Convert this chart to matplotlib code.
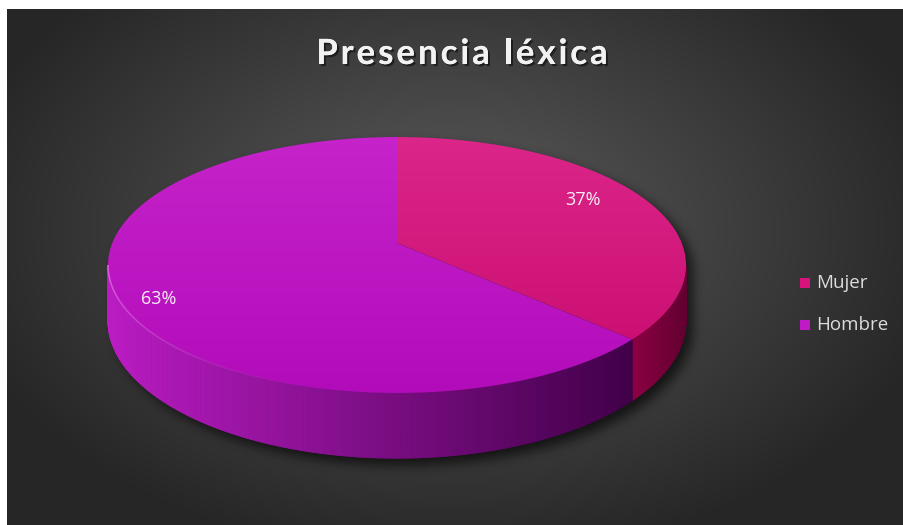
import numpy as np
import matplotlib
matplotlib.use('Agg')
import matplotlib.pyplot as plt
from matplotlib.path import Path
from matplotlib.patches import Polygon, Rectangle
from matplotlib.collections import PolyCollection, LineCollection
from matplotlib.colors import to_rgb
import matplotlib.patheffects as pe

# chart data
labels = ['Mujer', 'Hombre']
shares = [37, 63]
title = 'Presencia léxica'

# face colours (light, dark) per slice
top_colors = [('#dc268a', '#c80a6d'), ('#c623ca', '#b20cba')]
side_colors = [('#8e0044', '#620030'), ('#bb1cc4', '#42004a')]
legend_colors = ['#d8147c', '#c01ac6']
label_r = [0.70, 0.90]

W, H = 904, 525
fig = plt.figure(figsize=(W / 100, H / 100), dpi=100, facecolor='white')
ax = fig.add_axes([0, 0, 1, 1])

# dark radial background, white margin on the left and top
x0, y0 = 7, 9
yy, xx = np.mgrid[y0:H, x0:W] + 0.5
rr = np.sqrt(((xx - 450) / 520) ** 2 + ((yy - 230) / 340) ** 2)
g = np.clip(92 - 55 * rr, 38, 255) / 255
ax.imshow(np.dstack([g, g, g]), extent=(x0, W, H, y0), zorder=0,
          interpolation='bilinear')

# perspective projection of the pie disc
cx, cy = 397, 243
A, B, k = 284.7, 124.2, 0.172
D = 54


def project(alpha, r=1.0, drop=0.0):
    u = r * np.sin(alpha)
    v = -r * np.cos(alpha)
    w = 1 - k * v
    return cx + A * u / w, cy + B * v / w + drop / w


edges = 2 * np.pi * np.r_[0, np.cumsum(shares)] / np.sum(shares)
a_right = np.arccos(-k)
a_left = 2 * np.pi - a_right


def box_blur(a, r):
    for axis in (0, 1):
        pad = [(0, 0), (0, 0)]
        pad[axis] = (r + 1, r)
        c = np.cumsum(np.pad(a, pad, mode='edge'), axis=axis)
        if axis == 0:
            a = (c[2 * r + 1:] - c[:-2 * r - 1]) / (2 * r + 1)
        else:
            a = (c[:, 2 * r + 1:] - c[:, :-2 * r - 1]) / (2 * r + 1)
    return a


# soft drop shadow under the cylinder
back = np.linspace(a_left - 2 * np.pi, a_right, 300)
front = np.linspace(a_right, a_left, 300)
tx, ty = project(back)
bx, by = project(front, drop=D)
outline = np.column_stack([np.r_[tx, bx] + 7, np.r_[ty, by] + 7])
gy, gx = np.mgrid[0:H, 0:W] + 0.5
mask = Path(outline).contains_points(np.column_stack([gx.ravel(), gy.ravel()]))
mask = mask.reshape(H, W).astype(float)
for _ in range(3):
    mask = box_blur(mask, 5)
shadow = np.zeros((H, W, 4))
shadow[..., 3] = mask * 0.65
ax.imshow(shadow, extent=(0, W, H, 0), zorder=1)

# side wall, drawn as thin strips shaded left to right
for i in range(len(shares)):
    a0 = max(edges[i], a_right)
    a1 = min(edges[i + 1], a_left)
    if a1 <= a0:
        continue
    t = np.linspace(a0, a1, int((a1 - a0) / np.radians(0.4)) + 2)
    px, py = project(t)
    qx, qy = project(t, drop=D)
    c_lo, c_hi = np.array(to_rgb(side_colors[i][0])), np.array(to_rgb(side_colors[i][1]))
    xs_min, xs_max = px.min(), px.max()
    polys, cols = [], []
    for j in range(len(t) - 1):
        polys.append([(px[j], py[j]), (px[j + 1], py[j + 1]),
                      (qx[j + 1], qy[j + 1]), (qx[j], qy[j])])
        f = ((px[j] + px[j + 1]) / 2 - xs_min) / (xs_max - xs_min)
        cols.append(c_lo * (1 - f) + c_hi * f)
    ax.add_collection(PolyCollection(polys, facecolors=cols, edgecolors=cols,
                                     linewidths=0.6, zorder=2))

# top faces with a gentle vertical gradient
grad = np.linspace(0, 1, 256)[:, None, None]
for i in range(len(shares)):
    t = np.linspace(edges[i], edges[i + 1], 300)
    px, py = project(t)
    verts = np.column_stack([np.r_[cx, px], np.r_[cy, py]])
    poly = Polygon(verts, closed=True, facecolor='none', edgecolor='none')
    ax.add_patch(poly)
    c0, c1 = np.array(to_rgb(top_colors[i][0])), np.array(to_rgb(top_colors[i][1]))
    img = c0 * (1 - grad) + c1 * grad
    im = ax.imshow(img, extent=(px.min() - 3, px.max() + 3, 396, 134),
                   aspect='auto', zorder=3, interpolation='bilinear')
    im.set_clip_path(poly)

# light rim along the front-left edge of the top, fading toward the front
t = np.linspace(3.3, a_left, 200)
px, py = project(t)
segs = np.stack([np.column_stack([px[:-1], py[:-1]]),
                 np.column_stack([px[1:], py[1:]])], axis=1)
fade = np.linspace(0, 1, len(segs)) ** 1.5
rim_cols = [(0.96, 0.65, 0.97, 0.6 * a) for a in fade]
ax.add_collection(LineCollection(segs, colors=rim_cols, linewidths=1.1, zorder=4))

# percentage labels
for i, s in enumerate(shares):
    mid = (edges[i] + edges[i + 1]) / 2
    lx = cx + 289 * label_r[i] * np.sin(mid)
    ly = cy - 156 * label_r[i] * np.cos(mid)
    ax.text(lx, ly, f'{s}%', color='#f6eef6', fontsize=13, family='Open Sans',
            ha='center', va='center', zorder=5)

# legend
for i, name in enumerate(labels):
    ly = 283 + 42 * i
    ax.add_patch(Rectangle((800, ly - 5), 10, 10, facecolor=legend_colors[i],
                           edgecolor='none', zorder=5))
    ax.text(816, ly, name, color='#dcdcdc', fontsize=13.5, family='Open Sans',
            ha='left', va='center', zorder=5)

# letter-spaced title
renderer = fig.canvas.get_renderer()
tprops = dict(fontsize=25, family='Lato', fontweight='bold')


def text_width(s):
    tmp = ax.text(0, 0, s, **tprops)
    w = tmp.get_window_extent(renderer).width
    tmp.remove()
    return w


spacing = 3.0
full = text_width(title) + spacing * (len(title) - 1)
start = 462 - full / 2
for i, ch in enumerate(title):
    if ch == ' ':
        continue
    off = text_width(title[:i + 1]) - text_width(ch)
    ax.text(start + off + spacing * i, 64, ch, color='#f2f2f2', va='baseline',
            ha='left', zorder=5, **tprops,
            path_effects=[pe.withSimplePatchShadow(offset=(1.5, -1.5),
                                                   shadow_rgbFace='black', alpha=0.5),
                          pe.Normal()])

ax.set_xlim(0, W)
ax.set_ylim(H, 0)
ax.set_aspect('auto')
ax.axis('off')
fig.savefig('out.png', dpi=100, facecolor='white')
